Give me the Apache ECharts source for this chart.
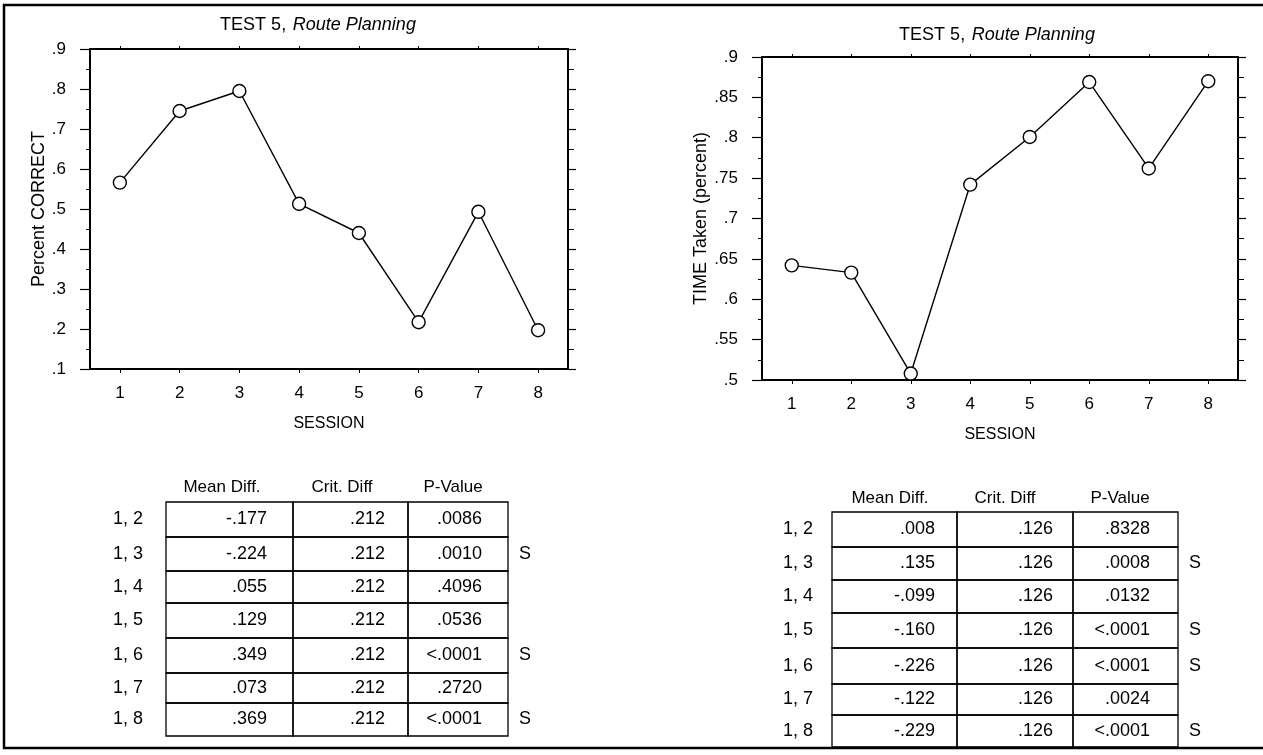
<!DOCTYPE html>
<html>
<head>
<meta charset="utf-8">
<script src="https://cdn.jsdelivr.net/npm/echarts@6/dist/echarts.min.js"></script>
<style>
  html, body { margin: 0; padding: 0; background: #fff; }
  #chart { width: 1263px; height: 755px; }
</style>
</head>
<body>
<div id="chart"></div>
<script>
// Sessions on the x axis of both plots
const sessions = ['1', '2', '3', '4', '5', '6', '7', '8'];

// Route Planning: proportion correct per session
const percentCorrect = [0.566, 0.745, 0.795, 0.513, 0.440, 0.217, 0.493, 0.197];
// Route Planning: proportion of time taken per session
const timeTaken = [0.642, 0.633, 0.508, 0.742, 0.801, 0.869, 0.762, 0.870];

// Pairwise comparisons of session 1 against the others
const pairs = ['1, 2', '1, 3', '1, 4', '1, 5', '1, 6', '1, 7', '1, 8'];
const tableHeaders = ['Mean Diff.', 'Crit. Diff', 'P-Value'];

const correctMeanDiff = ['-.177', '-.224', '.055', '.129', '.349', '.073', '.369'];
const correctCritDiff = ['.212', '.212', '.212', '.212', '.212', '.212', '.212'];
const correctPValue = ['.0086', '.0010', '.4096', '.0536', '<.0001', '.2720', '<.0001'];
const correctSig = ['', 'S', '', '', 'S', '', 'S'];

const timeMeanDiff = ['.008', '.135', '-.099', '-.160', '-.226', '-.122', '-.229'];
const timeCritDiff = ['.126', '.126', '.126', '.126', '.126', '.126', '.126'];
const timePValue = ['.8328', '.0008', '.0132', '<.0001', '<.0001', '.0024', '<.0001'];
const timeSig = ['', 'S', '', 'S', 'S', '', 'S'];

const FONT = '"Liberation Sans", Arial, Helvetica, sans-serif';
const INK = '#000';

// ".9" style tick labels (no leading zero)
function decimalLabel(v) {
  return String(+v.toFixed(3)).replace(/^0\./, '.').replace(/^-0\./, '-.');
}

function bottomAxis(gridIndex) {
  return {
    type: 'category', gridIndex, position: 'bottom', data: sessions, boundaryGap: true,
    axisLine: { show: true, lineStyle: { color: INK, width: 2 } },
    axisTick: { show: true, alignWithLabel: true, length: 4, lineStyle: { color: INK, width: 1 } },
    axisLabel: { margin: 16, fontSize: 17, color: INK, fontFamily: FONT },
    splitLine: { show: false },
    name: 'SESSION', nameLocation: 'middle', nameGap: 47,
    nameTextStyle: { fontSize: 16, color: INK, fontFamily: FONT }
  };
}
function topAxis(gridIndex) {
  return {
    type: 'category', gridIndex, position: 'top', data: sessions, boundaryGap: true,
    axisLine: { show: true, lineStyle: { color: INK, width: 2 } },
    axisTick: { show: true, alignWithLabel: true, length: 3, lineStyle: { color: INK, width: 1 } },
    axisLabel: { show: false }, splitLine: { show: false }
  };
}
function leftAxis(gridIndex, min, max, step, name, nameGap) {
  return {
    type: 'value', gridIndex, position: 'left', min, max, interval: step,
    axisLine: { show: true, lineStyle: { color: INK, width: 2 } },
    axisTick: { show: true, length: 10, lineStyle: { color: INK, width: 1.2 } },
    minorTick: { show: true, splitNumber: 2, length: 4, lineStyle: { color: INK, width: 1 } },
    axisLabel: { margin: 24, fontSize: 17, color: INK, fontFamily: FONT, formatter: decimalLabel },
    splitLine: { show: false }, minorSplitLine: { show: false },
    name, nameLocation: 'middle', nameRotate: 90, nameGap,
    nameTextStyle: { fontSize: 18, color: INK, fontFamily: FONT }
  };
}
function rightAxis(gridIndex, min, max, step) {
  return {
    type: 'value', gridIndex, position: 'right', min, max, interval: step,
    axisLine: { show: true, lineStyle: { color: INK, width: 2 } },
    axisTick: { show: true, length: 8, lineStyle: { color: INK, width: 1.2 } },
    minorTick: { show: true, splitNumber: 2, length: 6, lineStyle: { color: INK, width: 1 } },
    axisLabel: { show: false },
    splitLine: { show: false }, minorSplitLine: { show: false }
  };
}
function lineSeries(axisIndex, data) {
  return {
    type: 'line', xAxisIndex: axisIndex, yAxisIndex: axisIndex, data,
    symbol: 'circle', symbolSize: 13,
    lineStyle: { color: INK, width: 1.4 },
    itemStyle: { color: '#fff', borderColor: INK, borderWidth: 1.4 },
    emphasis: { disabled: true }, animation: false
  };
}

// Table of comparisons drawn as boxed cells
function tableGraphics(layout, meanDiff, critDiff, pValue, sig) {
  const els = [];
  const cols = [meanDiff, critDiff, pValue];
  tableHeaders.forEach((h, j) => {
    els.push({ type: 'text', style: { text: h, x: layout.headerX[j], y: layout.headerY,
      align: 'center', verticalAlign: 'middle', fill: INK, font: '17px ' + FONT } });
  });
  pairs.forEach((p, i) => {
    const y0 = layout.rows[i], y1 = layout.rows[i + 1], yc = (y0 + y1) / 2;
    for (let j = 0; j < 3; j++) {
      els.push({ type: 'rect', shape: { x: layout.cols[j], y: y0, width: layout.cols[j + 1] - layout.cols[j], height: y1 - y0 },
        style: { fill: 'none', stroke: INK, lineWidth: 1.3 } });
      els.push({ type: 'text', style: { text: cols[j][i], x: layout.valueRight[j], y: yc,
        align: 'right', verticalAlign: 'middle', fill: INK, font: '18px ' + FONT } });
    }
    els.push({ type: 'text', style: { text: p, x: layout.labelX, y: yc,
      align: 'right', verticalAlign: 'middle', fill: INK, font: '18px ' + FONT } });
    if (sig[i]) {
      els.push({ type: 'text', style: { text: sig[i], x: layout.sigX, y: yc,
        align: 'left', verticalAlign: 'middle', fill: INK, font: '18px ' + FONT } });
    }
  });
  return els;
}

function titleGraphic(x, y) {
  return { type: 'text', style: {
    text: '{a|TEST 5,}  {b|Route Planning}', x, y, align: 'center', verticalAlign: 'middle',
    rich: { a: { fontSize: 18, fontFamily: FONT, fill: INK }, b: { fontSize: 18, fontFamily: FONT, fontStyle: 'italic', fill: INK } }
  } };
}

const leftLayout = {
  cols: [166, 293, 408, 508], rows: [502, 537, 571, 603, 638, 673, 703, 736],
  labelX: 143, valueRight: [267, 385, 482], sigX: 519, headerY: 487, headerX: [222, 342, 453]
};
const rightLayout = {
  cols: [832, 957, 1073, 1178], rows: [512, 547, 580, 613, 648, 684, 715, 747],
  labelX: 813, valueRight: [935, 1053, 1150], sigX: 1189, headerY: 498, headerX: [890, 1005, 1120]
};

const chart = echarts.init(document.getElementById('chart'), null, { renderer: 'canvas' });
chart.setOption({
  animation: false,
  backgroundColor: '#fff',
  grid: [
    { left: 90, top: 49, width: 478, height: 320 },
    { left: 762, top: 57, width: 476, height: 323 }
  ],
  xAxis: [bottomAxis(0), bottomAxis(1), topAxis(0), topAxis(1)],
  yAxis: [
    leftAxis(0, 0.1, 0.9, 0.1, 'Percent CORRECT', 41),
    leftAxis(1, 0.5, 0.9, 0.05, 'TIME Taken (percent)', 38),
    rightAxis(0, 0.1, 0.9, 0.1),
    rightAxis(1, 0.5, 0.9, 0.05)
  ],
  series: [lineSeries(0, percentCorrect), lineSeries(1, timeTaken)],
  graphic: [
    // outer frame
    { type: 'polyline', shape: { points: [[1263, 5], [4, 5], [4, 748], [1263, 748]] },
      style: { fill: 'none', stroke: INK, lineWidth: 2.5 } },
    titleGraphic(318, 25),
    titleGraphic(997, 35),
    ...tableGraphics(leftLayout, correctMeanDiff, correctCritDiff, correctPValue, correctSig),
    ...tableGraphics(rightLayout, timeMeanDiff, timeCritDiff, timePValue, timeSig)
  ]
});
</script>
</body>
</html>
